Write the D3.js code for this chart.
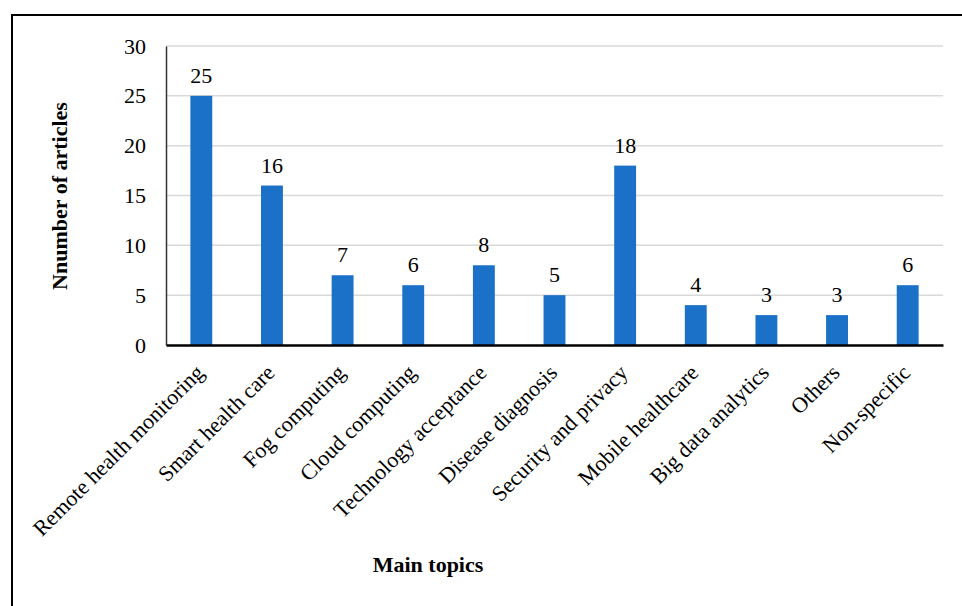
<!DOCTYPE html>
<html>
<head>
<meta charset="utf-8">
<script src="https://cdn.jsdelivr.net/npm/d3@7"></script>
<style>
  html, body { margin: 0; padding: 0; background: #fff; overflow: hidden; }
  svg { display: block; }
  svg text { font-family: "Liberation Serif", "Times New Roman", Times, "DejaVu Serif", serif !important; fill: #000; }
</style>
</head>
<body>
<svg id="chart" width="962" height="606"></svg>
<script>
// Articles per main topic
const topics = [
  "Remote health monitoring", "Smart health care", "Fog computing",
  "Cloud computing", "Technology acceptance", "Disease diagnosis",
  "Security and privacy", "Mobile healthcare", "Big data analytics",
  "Others", "Non-specific"
];
const articleCounts = [25, 16, 7, 6, 8, 5, 18, 4, 3, 3, 6];
const yTicks = [0, 5, 10, 15, 20, 25, 30];

const svg = d3.select("#chart");
const W = 962, H = 606;
const margin = { left: 166, right: 19, top: 46, bottom: 261 };
const plotW = W - margin.left - margin.right;
const plotH = H - margin.top - margin.bottom;
const FONT = "'Liberation Serif', 'Times New Roman', Times, 'DejaVu Serif', serif";
const FS = 22;

// outer frame
svg.append("rect")
  .attr("x", 12).attr("y", 15)
  .attr("width", 980).attr("height", 620)
  .attr("fill", "none").attr("stroke", "#000").attr("stroke-width", 2);

const g = svg.append("g").attr("transform", `translate(${margin.left},${margin.top})`);

const x = d3.scaleBand().domain(topics).range([0, plotW]).paddingInner(0.69).paddingOuter(0.345);
const y = d3.scaleLinear().domain([0, 30]).range([plotH, 0]);

// gridlines
g.append("g")
  .selectAll("line")
  .data(yTicks.filter(d => d > 0))
  .join("line")
  .attr("x1", 0).attr("x2", plotW)
  .attr("y1", d => y(d)).attr("y2", d => y(d))
  .attr("stroke", "#d9d9d9").attr("stroke-width", 1.5);

// y axis
const yAxis = g.append("g")
  .call(d3.axisLeft(y).tickValues(yTicks).tickSize(0).tickPadding(20))
  .attr("font-family", FONT).attr("font-size", FS);
yAxis.select(".domain").attr("stroke", "#333").attr("stroke-width", 1.5);
yAxis.selectAll("text").attr("fill", "#000");

// bars
g.append("g")
  .selectAll("rect")
  .data(topics)
  .join("rect")
  .attr("x", d => x(d))
  .attr("y", (d, i) => y(articleCounts[i]))
  .attr("width", x.bandwidth())
  .attr("height", (d, i) => plotH - y(articleCounts[i]))
  .attr("fill", "#1a71c7");

// value labels
g.append("g")
  .attr("font-family", FONT).attr("font-size", FS)
  .selectAll("text")
  .data(topics)
  .join("text")
  .attr("x", d => x(d) + x.bandwidth() / 2)
  .attr("y", (d, i) => y(articleCounts[i]) - 13)
  .attr("text-anchor", "middle")
  .text((d, i) => articleCounts[i]);

// x axis
const xAxis = g.append("g")
  .attr("transform", `translate(0,${plotH})`)
  .call(d3.axisBottom(x).tickSize(0).tickPadding(0))
  .attr("font-family", FONT).attr("font-size", FS);
xAxis.select(".domain").attr("stroke", "#000").attr("stroke-width", 2.5);
xAxis.selectAll("text")
  .attr("fill", "#000")
  .attr("text-anchor", "end")
  .attr("dy", 0)
  .attr("transform", "translate(4,29) rotate(-45)");

// axis titles
svg.append("text")
  .attr("transform", "translate(67,196) rotate(-90)")
  .attr("text-anchor", "middle")
  .attr("font-family", FONT).attr("font-size", FS)
  .attr("font-weight", "bold")
  .text("Nnumber of articles");

svg.append("text")
  .attr("x", 428).attr("y", 572)
  .attr("text-anchor", "middle")
  .attr("font-family", FONT).attr("font-size", FS)
  .attr("font-weight", "bold")
  .text("Main topics");
</script>
</body>
</html>
